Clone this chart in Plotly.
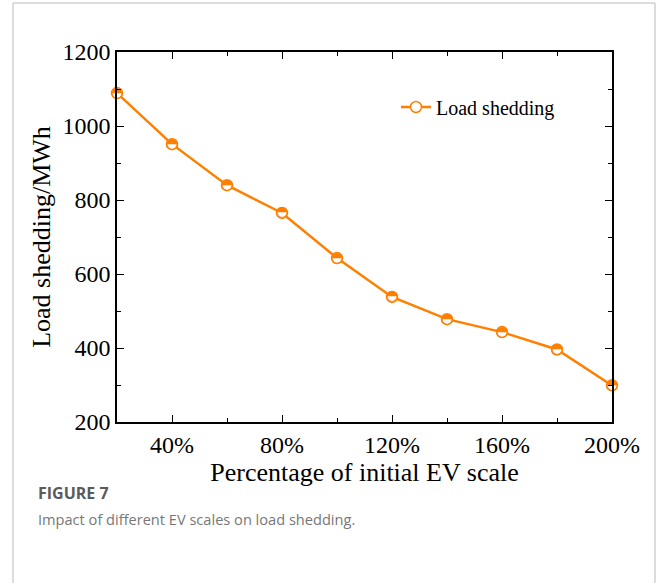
import plotly.graph_objects as go

x_pct = [20, 40, 60, 80, 100, 120, 140, 160, 180, 200]
load_shedding = [1089, 951, 840, 765, 643, 538, 478, 443, 396, 299]
x_tick_vals = [40, 80, 120, 160, 200]
x_tick_text = ["40%", "80%", "120%", "160%", "200%"]
y_tick_vals = [200, 400, 600, 800, 1000, 1200]

W, H = 658, 583
L, R, T, B = 117, 612, 52, 422
orange = "#FF8000"
serif = "Liberation Serif, Times New Roman, serif"

fig = go.Figure()
fig.add_trace(go.Scatter(
    x=x_pct, y=load_shedding, mode="lines+markers", name="Load shedding",
    line=dict(color=orange, width=2.5),
    marker=dict(symbol="circle", size=11, color="white",
                line=dict(color=orange, width=1.5)),
    cliponaxis=False,
))
fig.add_trace(go.Scatter(
    x=x_pct, y=load_shedding, mode="text", text=["◓"] * len(x_pct),
    textposition="middle center", showlegend=False, hoverinfo="skip",
    textfont=dict(family="DejaVu Sans", size=14, color=orange),
    cliponaxis=False,
))

axis_common = dict(showline=True, linecolor="black", linewidth=1.5, mirror="allticks",
                   ticks="inside", ticklen=7, tickwidth=1.2, tickcolor="black",
                   showgrid=False, zeroline=False,
                   tickfont=dict(family=serif, size=24, color="black"))
fig.update_xaxes(range=[20, 200], tickvals=x_tick_vals, ticktext=x_tick_text,
                 minor=dict(tickvals=[20, 60, 100, 140, 180], ticks="inside", ticklen=4, tickcolor="black", tickwidth=1.2),
                 title=dict(text="Percentage of initial EV scale", font=dict(family=serif, size=26, color="black"), standoff=4),
                 **axis_common)
fig.update_yaxes(range=[200, 1200], tickvals=y_tick_vals,
                 minor=dict(tickvals=[300, 500, 700, 900, 1100], ticks="inside", ticklen=4, tickcolor="black", tickwidth=1.2),
                 title=dict(text="Load shedding/MWh", font=dict(family=serif, size=26, color="black"), standoff=4),
                 **axis_common)

pw, ph = R - L, B - T
def px(xp): return (xp - L) / pw
def py(yp): return (B - yp) / ph

frame = "#d0d0d0"
fig.add_shape(type="line", xref="paper", yref="paper", x0=px(13), x1=px(13), y0=py(3), y1=py(600), line=dict(color=frame, width=1.5))
fig.add_shape(type="line", xref="paper", yref="paper", x0=px(655), x1=px(655), y0=py(3), y1=py(600), line=dict(color=frame, width=1.5))
fig.add_shape(type="line", xref="paper", yref="paper", x0=px(13), x1=px(655), y0=py(3), y1=py(3), line=dict(color=frame, width=1.5))

fig.add_annotation(xref="paper", yref="paper", x=px(36), y=py(493), xanchor="left", yanchor="middle",
                   text="<b>FIGURE 7</b>", showarrow=False,
                   font=dict(family="Open Sans, Noto Sans, sans-serif", size=16, color="#5a5a5a"))
fig.add_annotation(xref="paper", yref="paper", x=px(36), y=py(519), xanchor="left", yanchor="middle",
                   text="Impact of different EV scales on load shedding.", showarrow=False,
                   font=dict(family="Open Sans, Noto Sans, sans-serif", size=14.6, color="#777777"))

fig.update_layout(
    width=W, height=H, margin=dict(l=L, r=W - R, t=T, b=H - B),
    paper_bgcolor="white", plot_bgcolor="white",
    showlegend=True,
    legend=dict(x=px(396), y=py(107), xanchor="left", yanchor="middle",
                font=dict(family=serif, size=20, color="black"), bgcolor="rgba(0,0,0,0)"),
)
fig.write_html("out.html")
